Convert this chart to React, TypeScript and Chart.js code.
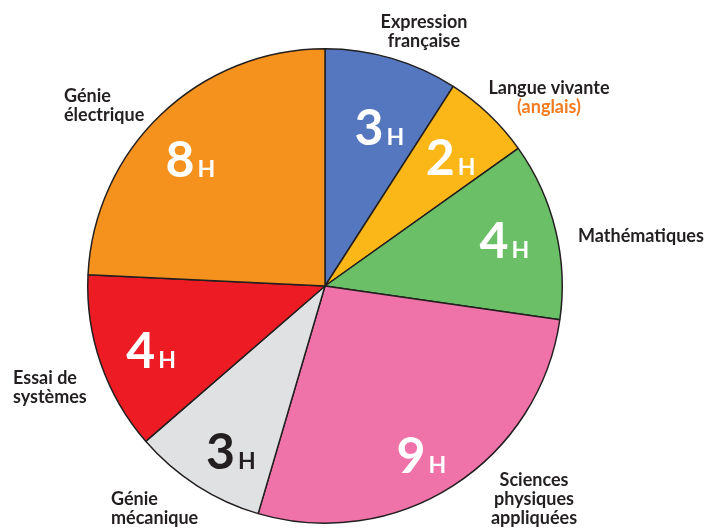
import React, { useEffect, useRef } from "react";
import { Chart, registerables } from "chart.js";

Chart.register(...registerables);

// ---- data ----
const subjects = [
  "Expression française",
  "Langue vivante (anglais)",
  "Mathématiques",
  "Sciences physiques appliquées",
  "Génie mécanique",
  "Essai de systèmes",
  "Génie électrique",
];
const hours = [3, 2, 4, 9, 3, 4, 8];
const unitLabel = "H";

// ---- styles / layout ----
const sliceColors = ["#5577c0", "#fbb618", "#6bbf67", "#ef72a8", "#e0e1e3", "#ed1c24", "#f5921e"];
const valueTextColors = ["#ffffff", "#ffffff", "#ffffff", "#ffffff", "#231f20", "#ffffff", "#ffffff"];
const valueRadiusFactor = [0.71, 0.76, 0.78, 0.82, 0.8, 0.78, 0.78];
const valueAngleShift = [2.5, 0.5, -0.7, 3, -3, -1, -3]; // degrees
const FONT = "Lato, 'Open Sans', sans-serif";

type Line = { text: string; color: string };
type OuterLabel = { x: number; y: number; align: CanvasTextAlign; lines: Line[] };
const DARK = "#231f20";
const ORANGE = "#f47b20";
const outerLabels: OuterLabel[] = [
  { x: 424, y: 22, align: "center", lines: [{ text: "Expression", color: DARK }, { text: "française", color: DARK }] },
  { x: 549, y: 88, align: "center", lines: [{ text: "Langue vivante", color: DARK }, { text: "(anglais)", color: ORANGE }] },
  { x: 578, y: 236, align: "left", lines: [{ text: "Mathématiques", color: DARK }] },
  { x: 534, y: 480, align: "center", lines: [{ text: "Sciences", color: DARK }, { text: "physiques", color: DARK }, { text: "appliquées", color: DARK }] },
  { x: 111, y: 499, align: "left", lines: [{ text: "Génie", color: DARK }, { text: "mécanique", color: DARK }] },
  { x: 13, y: 378, align: "left", lines: [{ text: "Essai de", color: DARK }, { text: "systèmes", color: DARK }] },
  { x: 64, y: 96, align: "left", lines: [{ text: "Génie", color: DARK }, { text: "électrique", color: DARK }] },
];

const labelPlugin = {
  id: "pieLabels",
  afterDatasetsDraw(chart: any) {
    const ctx: CanvasRenderingContext2D = chart.ctx;
    const meta = chart.getDatasetMeta(0);
    ctx.save();
    meta.data.forEach((arc: any, i: number) => {
      const { x, y, startAngle, endAngle, outerRadius } = arc.getProps(
        ["x", "y", "startAngle", "endAngle", "outerRadius"],
        true
      );
      const mid = (startAngle + endAngle) / 2 + (valueAngleShift[i] * Math.PI) / 180;
      const r = outerRadius * valueRadiusFactor[i];
      const cx = x + Math.cos(mid) * r;
      const cy = y + Math.sin(mid) * r;
      const num = String(hours[i]);
      ctx.fillStyle = valueTextColors[i];
      ctx.textBaseline = "alphabetic";
      ctx.textAlign = "left";
      ctx.font = `bold 50px ${FONT}`;
      const wn = ctx.measureText(num).width;
      ctx.font = `bold 23px ${FONT}`;
      const wh = ctx.measureText(unitLabel).width;
      const gap = 3;
      const total = wn + gap + wh;
      const left = cx - total / 2;
      const base = cy + 18;
      ctx.font = `bold 50px ${FONT}`;
      ctx.fillText(num, left, base);
      ctx.font = `bold 23px ${FONT}`;
      ctx.fillText(unitLabel, left + wn + gap, base);
    });
    ctx.font = `bold 18px ${FONT}`;
    ctx.textBaseline = "middle";
    outerLabels.forEach((lab) => {
      ctx.textAlign = lab.align;
      lab.lines.forEach((ln, k) => {
        ctx.fillStyle = ln.color;
        ctx.fillText(ln.text, lab.x, lab.y + k * 19);
      });
    });
    ctx.restore();
  },
};

export default function App() {
  const ref = useRef<HTMLCanvasElement | null>(null);
  useEffect(() => {
    if (!ref.current) return;
    const chart = new Chart(ref.current, {
      type: "pie",
      data: {
        labels: subjects,
        datasets: [
          {
            data: hours,
            backgroundColor: sliceColors,
            borderColor: "#231f20",
            borderWidth: 1.5,
          },
        ],
      },
      options: {
        responsive: false,
        animation: false,
        layout: { padding: { top: 48, bottom: 5, left: 87, right: 159 } },
        plugins: {
          legend: { display: false },
          tooltip: { enabled: false },
        },
      },
      plugins: [labelPlugin],
    });
    return () => chart.destroy();
  }, []);
  return (
    <div style={{ position: "absolute", left: 0, top: 0, width: 722, height: 529, background: "#fff" }}>
      <canvas ref={ref} width={722} height={529} style={{ display: "block" }} />
    </div>
  );
}
